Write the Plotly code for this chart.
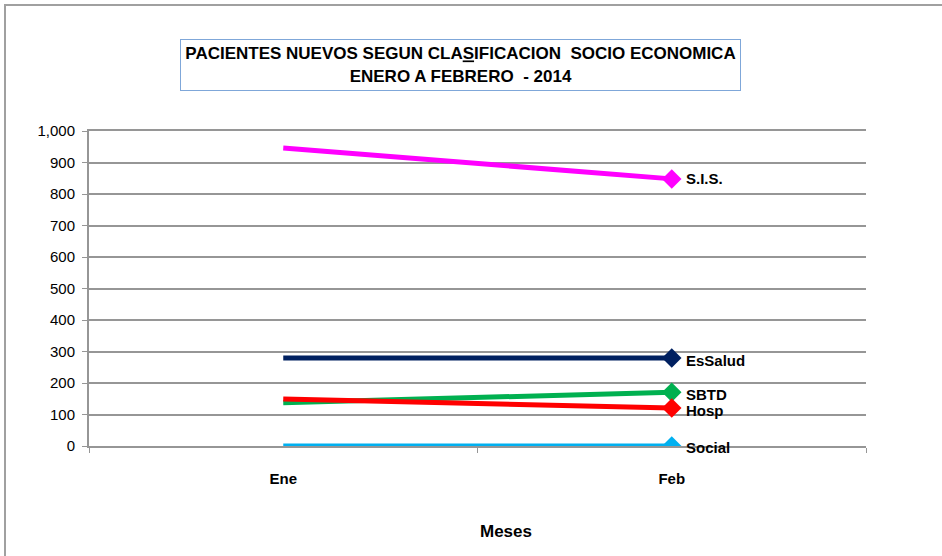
import plotly.graph_objects as go

meses = ["Ene", "Feb"]
series = ["S.I.S.", "EsSalud", "SBTD", "Hosp", "Social"]
valores = {
    "S.I.S.": [946, 848],
    "EsSalud": [279, 279],
    "SBTD": [137, 171],
    "Hosp": [149, 121],
    "Social": [0, 0],
}
colores = {
    "S.I.S.": "#FF00FF",
    "EsSalud": "#002060",
    "SBTD": "#00B050",
    "Hosp": "#FF0000",
    "Social": "#00B0F0",
}
# small vertical nudges for the end labels (px)
label_shift = {"S.I.S.": 0, "EsSalud": -2, "SBTD": -2, "Hosp": -3, "Social": -1}
y_ticks = [0, 100, 200, 300, 400, 500, 600, 700, 800, 900, 1000]

FONT = "Liberation Sans, Arial, sans-serif"
GRID = "#969696"

fig = go.Figure()
for name in series:
    fig.add_scatter(
        x=meses,
        y=valores[name],
        mode="lines+markers",
        name=name,
        line=dict(color=colores[name], width=5),
        marker=dict(symbol="diamond", size=[0, 15], color=colores[name],
                    opacity=1, line=dict(width=0)),
        showlegend=False,
    )
    fig.add_annotation(
        x=meses[-1],
        y=valores[name][-1],
        text=f"<b>{name}</b>",
        showarrow=False,
        xanchor="left",
        xshift=12,
        yshift=label_shift[name],
        font=dict(family=FONT, size=15, color="#000"),
    )

# title box
fig.add_annotation(
    xref="paper",
    yref="paper",
    x=0.4775,
    y=1.2095,
    xanchor="center",
    yanchor="middle",
    text="<b>PACIENTES NUEVOS SEGUN CLA<u>S</u>IFICACION  SOCIO ECONOMICA<br>ENERO A FEBRERO  - 2014</b>",
    showarrow=False,
    align="center",
    width=559,
    height=50,
    bordercolor="#7FA7D9",
    borderwidth=1,
    borderpad=0,
    font=dict(family=FONT, size=17, color="#000"),
)

# x axis title (sits a bit right of the plot centre, as in the original)
fig.add_annotation(
    xref="paper",
    yref="paper",
    x=0.537,
    y=-0.273,
    xanchor="center",
    yanchor="middle",
    text="<b>Meses</b>",
    showarrow=False,
    font=dict(family=FONT, size=17, color="#000"),
)

# outer chart frame
fig.add_shape(
    type="rect",
    xref="paper",
    yref="paper",
    x0=-0.1081,
    x1=1.11,
    y0=-0.37,
    y1=1.4,
    line=dict(color="#A0A0A0", width=2),
    layer="below",
)

fig.update_xaxes(
    type="category",
    range=[-0.5, 1.5],
    tickson="boundaries",
    ticks="outside",
    ticklen=5,
    tickcolor=GRID,
    showline=True,
    mirror=True,
    linecolor=GRID,
    linewidth=2,
    showgrid=False,
    ticklabelstandoff=18,
    tickfont=dict(family=FONT, size=15, color="#000"),
    tickprefix="<b>",
    ticksuffix="</b>",
)
fig.update_yaxes(
    range=[0, 1000],
    tickvals=y_ticks,
    tickformat=",",
    ticks="outside",
    ticklen=5,
    tickcolor=GRID,
    showline=True,
    linecolor=GRID,
    linewidth=2,
    showgrid=True,
    gridcolor=GRID,
    gridwidth=2,
    zeroline=False,
    ticklabelstandoff=4,
    tickfont=dict(family=FONT, size=15, color="#000"),
)
fig.update_layout(
    width=942,
    height=556,
    margin=dict(l=89, r=76, t=131, b=110),
    plot_bgcolor="white",
    paper_bgcolor="white",
)
fig.write_html(
    "out.html",
    config={"displayModeBar": False},
    post_script="document.body.style.margin='0';",
)
